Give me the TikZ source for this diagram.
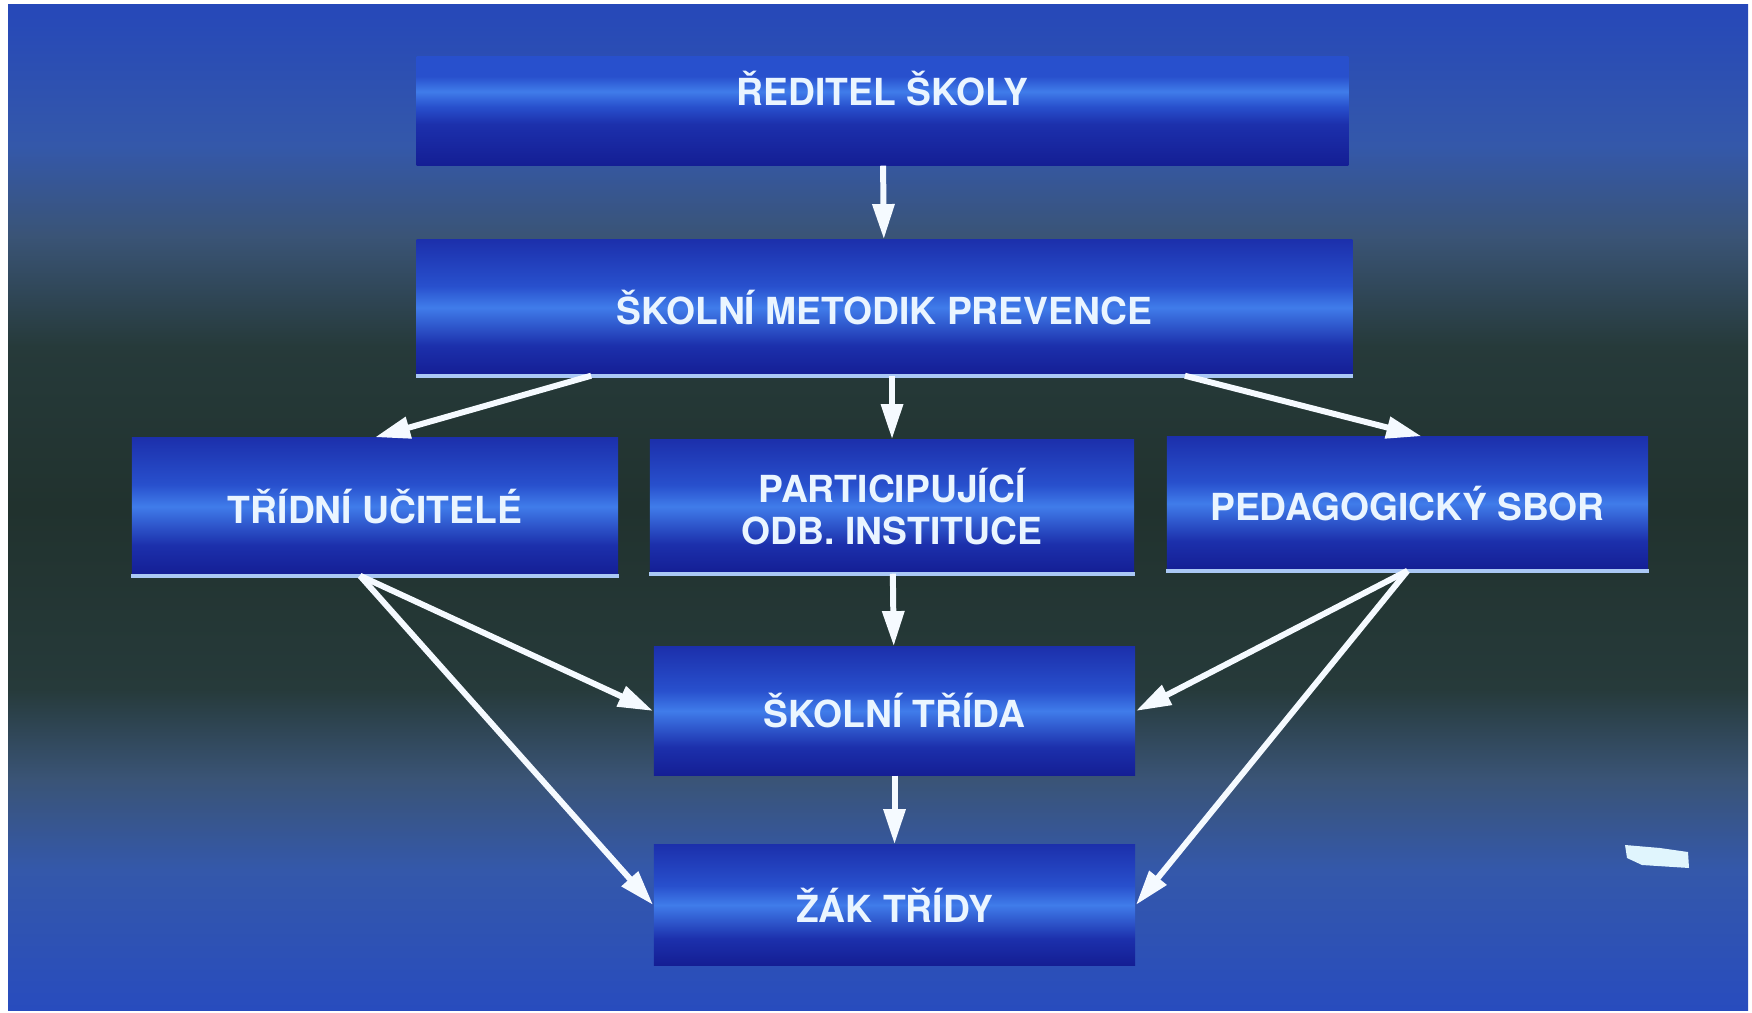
\documentclass[tikz,border=0pt]{standalone}
\usepackage{fontspec}
\setmainfont{TeX Gyre Heros}
\usetikzlibrary{arrows.meta}
\definecolor{bgtop}{RGB}{38,72,185}
\definecolor{bgmid}{RGB}{52,88,170}
\definecolor{bggrey}{RGB}{58,84,118}
\definecolor{bgdark}{RGB}{38,58,58}
\definecolor{bgdeep}{RGB}{33,50,46}
\definecolor{bgblue}{RGB}{40,76,190}
\definecolor{boxdeep}{RGB}{20,30,148}
\definecolor{boxdark}{RGB}{28,48,172}
\definecolor{boxmid}{RGB}{40,80,205}
\definecolor{boxlight}{RGB}{64,124,234}
\definecolor{boxtext}{RGB}{234,245,255}
\definecolor{arrowwhite}{RGB}{245,250,255}
\definecolor{rimblue}{RGB}{170,200,245}
\pgfdeclareverticalshading{bgshade}{100bp}{color(0bp)=(bgblue); color(25bp)=(bgblue);
  color(32bp)=(bgmid); color(36.5bp)=(bggrey); color(41bp)=(bgdark); color(50bp)=(bgdeep);
  color(58bp)=(bgdark); color(63.5bp)=(bggrey); color(68bp)=(bgmid); color(75bp)=(bgtop); color(100bp)=(bgtop)}
\pgfdeclareverticalshading{boxshade}{100bp}{color(0bp)=(boxdeep); color(25bp)=(boxdeep);
  color(36bp)=(boxdark); color(50bp)=(boxlight); color(58bp)=(boxmid); color(75bp)=(boxdark); color(100bp)=(boxdark)}
\pgfdeclareverticalshading{boxshadetop}{100bp}{color(0bp)=(boxdeep); color(25bp)=(boxdeep);
  color(44bp)=(boxdark); color(52bp)=(boxmid); color(59bp)=(boxlight); color(66bp)=(boxmid); color(75bp)=(boxmid); color(100bp)=(boxmid)}
\begin{document}
\begin{tikzpicture}[x=0.01cm, y=-0.01cm,
  org box/.style={rectangle, inner sep=0pt, text=boxtext, align=center,
    font=\bfseries\fontsize{10.6}{12}\selectfont, shade, shading=boxshade},
  flow/.style={every edge/.style={draw=arrowwhite, line width=1.7pt,
    -{Triangle[length=10pt,width=6pt,fill=arrowwhite]}}},
  rim/.style={draw=rimblue, line width=1.1pt},
  smudge/.style={fill=white!88!cyan}]
\useasboundingbox (0,0) rectangle (1752,1013);
\fill[white] (0,0) rectangle (1752,1013);
\shade[shading=bgshade] (8,5) rectangle (1748,1010);
\fill[smudge] (1625,845) -- (1660,848) -- (1688,852) -- (1689,868) -- (1642,865) -- (1627,858) -- cycle;
% boxes
\node [org box, shading=boxshadetop, minimum width=9.31cm, text height=0.49cm, text depth=0.59cm] (B1) at (882.5,111) {ŘEDITEL ŠKOLY};
\node [org box, minimum width=9.35cm, minimum height=1.35cm] (B2) at (884.5,307.5) {ŠKOLNÍ METODIK PREVENCE};
\node [org box, minimum width=4.86cm, minimum height=1.37cm] (B3) at (375,506.5) {TŘÍDNÍ UČITELÉ};
\node [org box, minimum width=4.84cm, minimum height=1.33cm] (B4) at (892,506.5) {PARTICIPUJÍCÍ\\ODB. INSTITUCE};
\node [org box, minimum width=4.81cm, minimum height=1.33cm] (B5) at (1407.5,503.5) {PEDAGOGICKÝ SBOR};
\node [org box, minimum width=4.81cm, minimum height=1.28cm] (B6) at (894.5,711) {ŠKOLNÍ TŘÍDA};
\node [org box, minimum width=4.81cm, minimum height=1.20cm] (B7) at (894.5,905) {ŽÁK TŘÍDY};
\foreach \n in {B2,B3,B4,B5}
  \draw[rim] (\n.south west) -- (\n.south east);
% arrows
\path[flow]
    (B1) edge (B2)
    ([xshift=1.75cm]B2.south west) edge (B3.north)
    (B2.south -| B4.north) edge (B4.north)
    ([xshift=-1.68cm]B2.south east) edge ([xshift=0.14cm]B5.north)
    ([xshift=-0.15cm]B3.south) edge (B6.west)
    ([xshift=-0.15cm]B3.south) edge (B7.west)
    (B4) edge (B6)
    (B5.south) edge (B6.east)
    (B5.south) edge (B7.east)
    (B6) edge (B7)
         ;
\end{tikzpicture}
\end{document}
